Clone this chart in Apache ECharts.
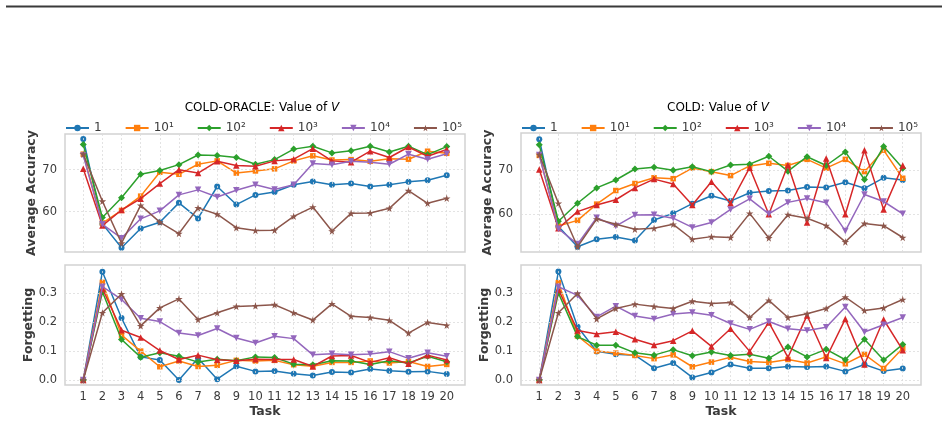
<!DOCTYPE html>
<html>
<head>
<meta charset="utf-8">
<script src="https://cdn.jsdelivr.net/npm/echarts@6/dist/echarts.min.js"></script>
<style>
  html, body { margin: 0; padding: 0; background: #fff; }
  #chart { width: 948px; height: 422px; }
</style>
</head>
<body>
<div id="chart"></div>
<script>
// tasks on the x axis
const tasks = [1, 2, 3, 4, 5, 6, 7, 8, 9, 10, 11, 12, 13, 14, 15, 16, 17, 18, 19, 20];
// values of V (legend)
const vNames = ["1", "10¹", "10²", "10³", "10⁴", "10⁵"];
const colors = ["#1f77b4", "#ff7f0e", "#2ca02c", "#d62728", "#9467bd", "#8c564b"];

// tick labels
const accTicks = [60, 70];
const forgTicks = [0, 0.1, 0.2, 0.3];

// COLD-ORACLE average accuracy, one row per V
const oracleAcc = [
  [77.3, 57.1, 51.4, 56.0, 57.5, 62.1, 58.4, 66.0, 61.7, 64.0, 64.7, 66.4, 67.2, 66.4, 66.7, 66.0, 66.4, 67.1, 67.5, 68.7],
  [73.7, 57.3, 60.3, 63.7, 69.4, 68.9, 71.3, 72.1, 69.2, 69.7, 70.2, 72.1, 73.3, 72.3, 72.4, 72.0, 72.6, 72.5, 74.4, 73.9],
  [76.0, 58.6, 63.3, 68.9, 69.8, 71.2, 73.5, 73.4, 72.9, 71.3, 72.4, 74.9, 75.6, 74.0, 74.5, 75.6, 74.2, 75.6, 73.6, 75.5],
  [70.2, 56.7, 60.4, 63.1, 66.7, 70.0, 69.2, 72.0, 71.0, 70.8, 72.1, 72.5, 75.0, 72.1, 71.8, 74.4, 72.9, 75.4, 73.2, 74.8],
  [73.4, 57.0, 53.7, 58.3, 60.2, 64.0, 65.2, 63.5, 65.1, 66.4, 65.3, 66.4, 71.5, 71.2, 72.0, 71.8, 71.3, 73.7, 72.5, 73.8],
  [73.7, 62.5, 52.5, 61.5, 57.5, 54.8, 60.9, 59.4, 56.2, 55.5, 55.6, 58.9, 61.1, 55.4, 59.6, 59.7, 60.8, 65.0, 62.0, 63.2]
];

// COLD-ORACLE forgetting
const oracleForg = [
  [0, 0.374, 0.214, 0.080, 0.069, 0.000, 0.075, 0.003, 0.048, 0.030, 0.031, 0.022, 0.016, 0.028, 0.026, 0.038, 0.032, 0.029, 0.030, 0.021],
  [0, 0.337, 0.155, 0.100, 0.046, 0.066, 0.047, 0.051, 0.068, 0.066, 0.068, 0.053, 0.048, 0.061, 0.061, 0.066, 0.059, 0.064, 0.047, 0.054],
  [0, 0.305, 0.140, 0.079, 0.094, 0.082, 0.062, 0.072, 0.067, 0.080, 0.078, 0.055, 0.053, 0.067, 0.066, 0.054, 0.067, 0.059, 0.082, 0.063],
  [0, 0.316, 0.172, 0.147, 0.102, 0.071, 0.086, 0.070, 0.067, 0.072, 0.071, 0.071, 0.047, 0.083, 0.085, 0.061, 0.077, 0.056, 0.086, 0.069],
  [0, 0.322, 0.278, 0.213, 0.202, 0.162, 0.154, 0.178, 0.145, 0.128, 0.151, 0.143, 0.087, 0.091, 0.087, 0.090, 0.098, 0.075, 0.094, 0.082],
  [0, 0.232, 0.297, 0.187, 0.249, 0.280, 0.209, 0.232, 0.254, 0.256, 0.260, 0.232, 0.207, 0.263, 0.220, 0.216, 0.206, 0.162, 0.199, 0.189]
];

// COLD average accuracy
const coldAcc = [
  [77.1, 57.2, 52.6, 54.3, 54.8, 54.0, 58.7, 60.2, 62.4, 64.2, 63.0, 64.9, 65.3, 65.4, 66.2, 66.1, 67.3, 65.9, 68.3, 67.8],
  [73.4, 57.3, 58.6, 62.3, 65.4, 67.0, 68.3, 68.1, 70.5, 69.7, 68.8, 71.0, 71.6, 71.1, 72.5, 70.5, 72.5, 69.7, 74.6, 68.2],
  [75.8, 58.4, 62.5, 66.0, 67.8, 70.3, 70.7, 70.0, 70.8, 69.7, 71.2, 71.4, 73.2, 69.8, 73.1, 71.1, 74.2, 67.9, 75.4, 70.5],
  [70.2, 56.8, 60.6, 62.1, 63.3, 66.0, 68.0, 66.9, 62.1, 67.4, 62.5, 70.6, 60.0, 71.2, 58.1, 72.7, 60.0, 74.6, 61.1, 71.1],
  [73.5, 56.7, 53.2, 59.2, 57.3, 59.8, 59.9, 59.1, 57.0, 58.1, 61.1, 63.5, 60.1, 62.7, 63.6, 62.6, 56.2, 64.5, 62.9, 60.1],
  [73.6, 62.5, 52.6, 58.9, 57.7, 56.6, 56.8, 57.7, 54.3, 54.9, 54.7, 60.2, 54.6, 59.9, 59.1, 57.4, 53.7, 57.9, 57.4, 54.7]
];

// COLD forgetting
const coldForg = [
  [0, 0.375, 0.184, 0.099, 0.089, 0.086, 0.041, 0.059, 0.009, 0.026, 0.054, 0.041, 0.041, 0.047, 0.045, 0.047, 0.030, 0.054, 0.031, 0.040],
  [0, 0.336, 0.152, 0.100, 0.093, 0.085, 0.074, 0.087, 0.046, 0.062, 0.079, 0.064, 0.061, 0.071, 0.059, 0.080, 0.056, 0.089, 0.040, 0.110],
  [0, 0.301, 0.150, 0.120, 0.120, 0.094, 0.086, 0.105, 0.084, 0.097, 0.085, 0.089, 0.075, 0.114, 0.080, 0.106, 0.070, 0.141, 0.069, 0.123],
  [0, 0.313, 0.171, 0.159, 0.167, 0.141, 0.121, 0.136, 0.170, 0.116, 0.177, 0.099, 0.199, 0.078, 0.223, 0.076, 0.211, 0.054, 0.209, 0.103],
  [0, 0.322, 0.292, 0.218, 0.255, 0.221, 0.211, 0.228, 0.233, 0.224, 0.195, 0.175, 0.202, 0.177, 0.171, 0.182, 0.252, 0.166, 0.191, 0.216],
  [0, 0.232, 0.299, 0.211, 0.247, 0.262, 0.254, 0.247, 0.272, 0.264, 0.268, 0.216, 0.275, 0.216, 0.229, 0.247, 0.286, 0.240, 0.249, 0.278]
];

const FONT = "DejaVu Sans";
const TEXT = "#3b3b3b";
const star = "path://M50,0 L61,35 L98,35 L68,57 L79,91 L50,70 L21,91 L32,57 L2,35 L39,35 Z";
const symbols = ["circle", "rect", "diamond", "triangle", "path://M0,0 L100,0 L50,90 Z", star];
const symbolSizes = [6, 5.5, 7, 6.5, 6.5, 7.5];

const chart = echarts.init(document.getElementById("chart"));

// the 4 panels
const panels = [
  { grid: { left: 65, top: 134, width: 400, height: 118 }, min: 50.4, max: 78.5, ticks: accTicks, name: "Average Accuracy", data: oracleAcc, bottom: false },
  { grid: { left: 65, top: 265, width: 400, height: 120 }, min: -0.017, max: 0.397, ticks: forgTicks, name: "Forgetting", data: oracleForg, bottom: true },
  { grid: { left: 521, top: 133, width: 400, height: 119 }, min: 51.4, max: 78.5, ticks: accTicks, name: "Average Accuracy", data: coldAcc, bottom: false },
  { grid: { left: 521, top: 265, width: 400, height: 120 }, min: -0.017, max: 0.397, ticks: forgTicks, name: "Forgetting", data: coldForg, bottom: true }
];

const grids = [], xAxes = [], yAxes = [], series = [];
const gridLine = { color: "#dcdcdc", width: 0.8, type: [2, 2] };

panels.forEach((p, i) => {
  grids.push(Object.assign({ show: true, borderColor: "#d2d2d2", borderWidth: 1.5, backgroundColor: "#fff" }, p.grid));
  xAxes.push({
    type: "value", gridIndex: i, min: 0.045, max: 20.955,
    axisLine: { show: false }, axisTick: { show: false }, splitLine: { show: false },
    axisLabel: { show: p.bottom, customValues: tasks, color: TEXT, fontFamily: FONT, fontSize: 11.5, margin: 6 },
    name: p.bottom ? "Task" : "", nameLocation: "middle", nameGap: 20,
    nameTextStyle: { fontWeight: "bold", fontSize: 12.5, color: TEXT, fontFamily: FONT }
  });
  yAxes.push({
    type: "value", gridIndex: i, min: p.min, max: p.max,
    axisLine: { show: false }, axisTick: { show: false }, splitLine: { show: false },
    axisLabel: {
      customValues: p.ticks, color: TEXT, fontFamily: FONT, fontSize: 11.5, margin: 8,
      formatter: (v) => (p.bottom ? v.toFixed(1) : String(v))
    },
    name: p.name, nameLocation: "middle", nameGap: 24,
    nameTextStyle: { fontWeight: "bold", fontSize: 12.5, color: TEXT, fontFamily: FONT }
  });
  // dotted grid lines
  series.push({
    type: "line", name: "grid" + i, xAxisIndex: i, yAxisIndex: i, data: [], z: 1, silent: true,
    markLine: {
      silent: true, symbol: "none", label: { show: false }, animation: false,
      lineStyle: gridLine,
      data: tasks.map((t) => ({ xAxis: t })).concat(p.ticks.map((v) => ({ yAxis: v })))
    }
  });
  p.data.forEach((row, k) => {
    series.push({
      type: "line", name: vNames[k], xAxisIndex: i, yAxisIndex: i, z: 3 + k,
      data: row.map((v, j) => [tasks[j], v]),
      symbol: symbols[k], symbolSize: symbolSizes[k], showAllSymbol: true,
      itemStyle: { color: colors[k] },
      lineStyle: { color: colors[k], width: 1.5 },
      emphasis: { disabled: true }
    });
  });
});

const legendBase = {
  data: vNames, top: 117, itemWidth: 23, itemHeight: 8, itemGap: 23,
  textStyle: { fontFamily: FONT, fontSize: 12, color: TEXT, padding: [0, 0, 0, 0] },
  selectedMode: false
};

const titleRich = {
  a: { fontFamily: FONT, fontSize: 12, color: "#262626" },
  b: { fontFamily: FONT, fontSize: 12, color: "#262626", fontStyle: "italic" }
};

chart.setOption({
  animation: false,
  grid: grids,
  xAxis: xAxes,
  yAxis: yAxes,
  legend: [
    Object.assign({ left: 60 }, legendBase),
    Object.assign({ left: 516 }, legendBase)
  ],
  graphic: [
    { type: "line", shape: { x1: 6, y1: 6.5, x2: 942, y2: 6.5 }, style: { stroke: "#3a3a3a", lineWidth: 2 } },
    { type: "text", x: 262, y: 108, style: { text: "{a|COLD-ORACLE: Value of }{b|V}", rich: titleRich, align: "center", verticalAlign: "middle" } },
    { type: "text", x: 718, y: 108, style: { text: "{a|COLD: Value of }{b|V}", rich: titleRich, align: "center", verticalAlign: "middle" } }
  ],
  series: series
});
</script>
</body>
</html>
